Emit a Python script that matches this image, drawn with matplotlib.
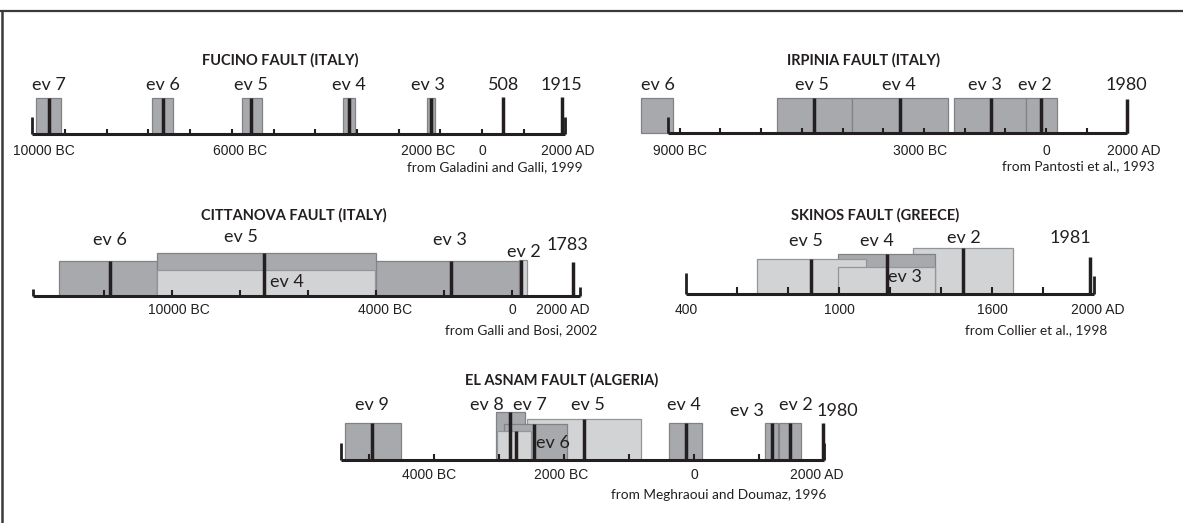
import numpy as np
import matplotlib.pyplot as plt
from matplotlib.lines import Line2D

W, H, DPI = 1183, 523, 100
INK = '#231f20'
DARK, DARK_EDGE = '#a7a9ac', '#808285'
LIGHT, LIGHT_EDGE = '#d1d3d4', '#939598'

# Fucino fault, Italy (Galadini and Galli, 1999) - years, negative = BC
fucino_ev = ['ev 7', 'ev 6', 'ev 5', 'ev 4', 'ev 3']
fucino_lo = [-10690, -7910, -5760, -3330, -1330]
fucino_hi = [-10090, -7410, -5270, -3040, -1120]
fucino_mid = [-10380, -7660, -5530, -3190, -1235]
fucino_hist = [508, 1915]
fucino_ticklab = ['10000 BC', '6000 BC', '2000 BC', '0', '2000 AD']

# Irpinia fault, Italy (Pantosti et al., 1993)
irpinia_ev = ['ev 6', 'ev 5', 'ev 4', 'ev 3', 'ev 2']
irpinia_lo = [-9950, -6620, -4770, -2260, -500]
irpinia_hi = [-9170, -4770, -2400, -500, 258]
irpinia_mid = [np.nan, -5705, -3577, -1349, -135]
irpinia_hist = [1980]
irpinia_ticklab = ['9000 BC', '3000 BC', '0', '2000 AD']

# Cittanova fault, Italy (Galli and Bosi, 2002)
citta_ev = ['ev 6', 'ev 5', 'ev 4', 'ev 3', 'ev 2']
citta_lo = [-13315, -10444, -10444, -4253, 194]
citta_hi = [-10444, -3994, -4029, 194, 453]
citta_mid = [-11829, -7291, np.nan, -1800, 250]
citta_hist = [1783]
citta_ticklab = ['10000 BC', '4000 BC', '0', '2000 AD']

# Skinos fault, Greece (Collier et al., 1998)
skinos_ev = ['ev 5', 'ev 4', 'ev 3', 'ev 2']
skinos_lo = [677, 995, 995, 1290]
skinos_hi = [1104, 1374, 1376, 1679]
skinos_mid = [890, 1187, np.nan, 1483]
skinos_hist = [1981]
skinos_ticklab = ['400', '1000', '1600', '2000 AD']

# El Asnam fault, Algeria (Meghraoui and Doumaz, 1996)
asnam_ev = ['ev 9', 'ev 8', 'ev 7', 'ev 6', 'ev 5', 'ev 4', 'ev 3', 'ev 2']
asnam_lo = [-5367, -3040, -3028, -2928, -2575, -383, 1088, 1310]
asnam_hi = [-4508, -2599, -2500, -1958, -823, 117, 1281, 1646]
asnam_mid = [-4951, -2822, -2745, -2458, -1694, -129, 1188, 1476]
asnam_hist = [1980]
asnam_ticklab = ['4000 BC', '2000 BC', '0', '2000 AD']

plt.rcParams['font.family'] = ['Lato', 'DejaVu Sans']
fig = plt.figure(figsize=(W / DPI, H / DPI), dpi=DPI)
fig.patch.set_facecolor('white')

# frame: top and left rules only
fig.add_artist(Line2D([0, 1], [1 - 11 / H] * 2, color='#3a3a3a', lw=1.6))
fig.add_artist(Line2D([2 / W] * 2, [0, 1 - 11 / H], color='#3a3a3a', lw=1.8))


def make_ax(a, b, base):
    # whole-figure axes: x in years (pixel = a + b*year), y in pixels above baseline
    ax = fig.add_axes([0, 0, 1, 1])
    ax.set_xlim(-a / b, (W - a) / b)
    ax.set_ylim(base - H, base)
    ax.axis('off')
    ax.patch.set_alpha(0)
    return ax


def draw_panel(ax, start, end, ticks, tick_h, end_h, lo, hi, mid, tops, shades,
               order, hist, hist_h, title, title_x, title_y):
    ax.plot([start, end], [0, 0], color=INK, lw=2.2, solid_capstyle='butt', zorder=10)
    ax.vlines(ticks, 0, tick_h, color=INK, lw=1.5, zorder=10)
    ax.vlines([start], 0, end_h[0], color=INK, lw=2, zorder=10)
    ax.vlines([end], 0, end_h[1], color=INK, lw=2, zorder=10)
    for i in range(len(lo)):
        face, edge = (DARK, DARK_EDGE) if shades[i] == 'd' else (LIGHT, LIGHT_EDGE)
        ax.bar(lo[i], tops[i], width=hi[i] - lo[i], bottom=0, align='edge',
               color=face, edgecolor=edge, lw=0.9, zorder=2 + order[i])
        if not np.isnan(mid[i]):
            ax.vlines(mid[i], 0, tops[i], color=INK, lw=2.5, zorder=11)
    ax.vlines(hist, 0, hist_h, color=INK, lw=2.5, zorder=11)
    ax.text(title_x, title_y, title, ha='center', va='center', fontsize=10.5,
            fontweight='bold', color=INK)


def labels(ax, texts, xs, ys, size=13, family=None):
    for s, x, y in zip(texts, xs, ys):
        ax.text(x, y, s, ha='center', va='center', fontsize=size, color=INK,
                family=family if family else ['Lato', 'DejaVu Sans'], zorder=20)


def tick_labels(ax, texts, xs, y):
    labels(ax, texts, xs, [y] * len(texts), size=10, family=['Liberation Sans'])


def source(ax, text, x, y):
    ax.text(x, y, text, ha='left', va='center', fontsize=9.8, color=INK)


# ---- Fucino ----
ax = make_ax(482, 0.0417, 134)
draw_panel(ax, -10800, 2000, np.arange(-10000, 2000, 1000), 5, (17, 17),
           fucino_lo, fucino_hi, fucino_mid, [36] * 5, 'ddddd', [0] * 5,
           fucino_hist, 37, 'FUCINO FAULT (ITALY)', -4844, 74)
labels(ax, fucino_ev + [str(v) for v in fucino_hist],
       [-10380, -7660, -5530, -3190, -1300, 508, 1915], [49] * 7)
tick_labels(ax, fucino_ticklab, [-10500, -5800, -1280, 0, 2060], -16.5)
source(ax, 'from Galadini and Galli, 1999', -1800, -33)

# ---- Irpinia ----
ax = make_ax(1046, 0.0407, 133)
draw_panel(ax, -9290, 2000, np.arange(-9000, 2000, 1000), 5, (16, 17),
           irpinia_lo, irpinia_hi, irpinia_mid, [35] * 5, 'ddddd', [0] * 5,
           irpinia_hist, 34, 'IRPINIA FAULT (ITALY)', -4496, 73)
labels(ax, irpinia_ev + [str(v) for v in irpinia_hist],
       [-9533, -5752, -3604, -1504, -270, 1980], [48] * 6)
tick_labels(ax, irpinia_ticklab, [-9000, -3086, 0, 2150], -17.5)
source(ax, 'from Pantosti et al., 1993', -1093, -33.5)

# ---- Cittanova ----
ax = make_ax(512, 0.034, 296)
draw_panel(ax, -14100, 2000, np.arange(-12000, 1, 2000), 6.5, (7, 9),
           citta_lo, citta_hi, citta_mid, [35, 43, 26, 35, 36], 'ddldl',
           [0, 2, 3, 1, 4], citta_hist, 34, 'CITTANOVA FAULT (ITALY)', -6412, 81)
labels(ax, citta_ev + [str(v) for v in citta_hist],
       [-11829, -7968, -6618, -1832, 338, 1618], [56, 59, 14, 56, 44, 51])
tick_labels(ax, citta_ticklab, [-9794, -3747, 0, 1500], -14)
source(ax, 'from Galli and Bosi, 2002', -1959, -34)

# ---- Skinos ----
ax = make_ax(584.2, 0.2551, 294)
draw_panel(ax, 400, 2000, np.arange(600, 2000, 200), 7, (21, 18),
           skinos_lo, skinos_hi, skinos_mid, [35, 40.5, 27, 46.5], 'ldll',
           [2, 1, 3, 0], skinos_hist, 37, 'SKINOS FAULT (GREECE)', 1140, 79)
labels(ax, skinos_ev + [str(v) for v in skinos_hist],
       [871, 1148, 1257, 1487, 1904], [52.5, 53.5, 17.5, 56, 56])
tick_labels(ax, skinos_ticklab, [400, 1000, 1600, 2014], -16)
source(ax, 'from Collier et al., 1998', 1493, -36)

# ---- El Asnam ----
ax = make_ax(694.2, 0.0651, 460)
draw_panel(ax, -5430, 2000, np.arange(-5000, 2000, 1000), 6, (17, 17),
           asnam_lo, asnam_hi, asnam_mid, [37.3, 47.7, 29.3, 35.7, 41, 37.3, 37.3, 37.3],
           'ddldlddd', [0, 2, 4, 3, 1, 0, 0, 0], asnam_hist, 37.3,
           'EL ASNAM FAULT (ALGERIA)', -2030, 80)
labels(ax, asnam_ev + [str(v) for v in asnam_hist],
       [-4949, -3186, -2528, -2175, -1634, -158, 811, 1558, 2204],
       [55, 55, 55, 16.7, 55, 55, 49.3, 55, 49.3])
tick_labels(ax, asnam_ticklab, [-4068, -2040, 0, 1880], -15)
source(ax, 'from Meghraoui and Doumaz, 1996', -1281, -35)

fig.savefig('out.png', dpi=DPI)
